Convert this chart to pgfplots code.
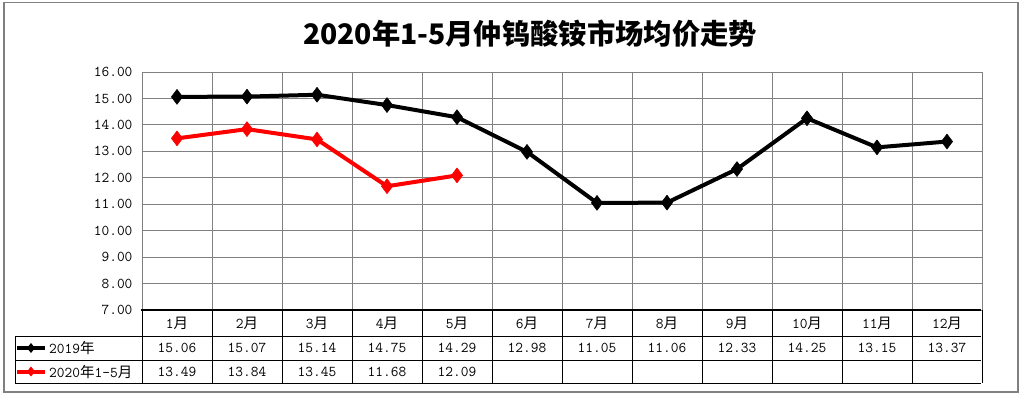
\documentclass[border=0pt]{standalone}
\usepackage{pgfplots}
\pgfplotsset{compat=1.18}
\usepackage{fontspec}
\newfontfamily\cjk{Noto Sans CJK SC}
\newcommand{\tfont}{\ttfamily\fontsize{15}{16}\selectfont}
\newcommand{\yue}{{\cjk\fontsize{14.5}{15}\selectfont 月}}
\newcommand{\nian}{{\cjk\fontsize{14.5}{15}\selectfont 年}}
\begin{document}
\begin{tikzpicture}[x=1pt,y=1pt]
\path[use as bounding box] (0,0) rectangle (1022,397);
\fill[white] (0,0) rectangle (1022,397);
\draw[color=black!50, line width=1.5pt] (4,5) rectangle (1018,394.5);
\node[font=\cjk\bfseries\fontsize{28.3}{30}\selectfont] at (530,363) {2020年1-5月仲钨酸铵市场均价走势};
\begin{axis}[at={(142pt,87pt)}, anchor=south west, width=840pt, height=238pt, scale only axis,
  xmin=0, xmax=12, ymin=7, ymax=16,
  xtick={0,...,12}, xticklabels={}, ytick={7,...,16},
  grid=major, major grid style={color=black!50, line width=1pt},
  axis line style={black!50, line width=1pt},
  tick style={draw=none},
  /pgf/number format/assume math mode=true,
  yticklabel style={font=\tfont, xshift=-6pt, /pgf/number format/.cd, fixed, fixed zerofill, precision=2},
  clip=false]
\addplot[black, line width=4pt, line join=round, mark=diamond*, mark size=7.5pt, mark options={solid, line width=0.5pt}]
  coordinates {(0.5,15.06) (1.5,15.07) (2.5,15.14) (3.5,14.75) (4.5,14.29) (5.5,12.98) (6.5,11.05) (7.5,11.06) (8.5,12.33) (9.5,14.25) (10.5,13.15) (11.5,13.37)};
\addplot[red, line width=4pt, line join=round, mark=diamond*, mark size=7.5pt, mark options={solid, line width=0.5pt}]
  coordinates {(0.5,13.49) (1.5,13.84) (2.5,13.45) (3.5,11.68) (4.5,12.09)};
\end{axis}
% data table
\draw[black, line width=1.3pt] (141,87) -- (981,87);
\draw[black, line width=1pt] (15,61) -- (981,61);
\draw[black, line width=1pt] (15,37) -- (981,37);
\draw[black, line width=1pt] (15,14) -- (981,14);
\draw[black, line width=1pt] (15,61) -- (15,14);
\foreach \i in {0,...,12} {\draw[black, line width=1pt] (142+70*\i,87) -- (142+70*\i,14);}
\foreach \m [count=\i from 0] in {1,...,12} {\node[font=\tfont] at (177+70*\i,73.5) {\m\yue};}
\foreach \v [count=\i from 0] in {15.06,15.07,15.14,14.75,14.29,12.98,11.05,11.06,12.33,14.25,13.15,13.37}
  {\node[font=\tfont] at (177+70*\i,49) {\v};}
\foreach \v [count=\i from 0] in {13.49,13.84,13.45,11.68,12.09}
  {\node[font=\tfont] at (177+70*\i,25.5) {\v};}
% legend keys
\draw[black, line width=4pt] (17,49) -- (45,49);
\fill[black] (31,54) -- (35,49) -- (31,44) -- (27,49) -- cycle;
\node[font=\tfont, anchor=west, inner sep=0pt] at (49,49) {2019\nian};
\draw[red, line width=4pt] (17,25.5) -- (45,25.5);
\fill[red] (31,30.5) -- (35,25.5) -- (31,20.5) -- (27,25.5) -- cycle;
\node[font=\tfont, anchor=west, inner sep=0pt] at (49,25.5) {2020\nian 1-5\yue};
\end{tikzpicture}
\end{document}
